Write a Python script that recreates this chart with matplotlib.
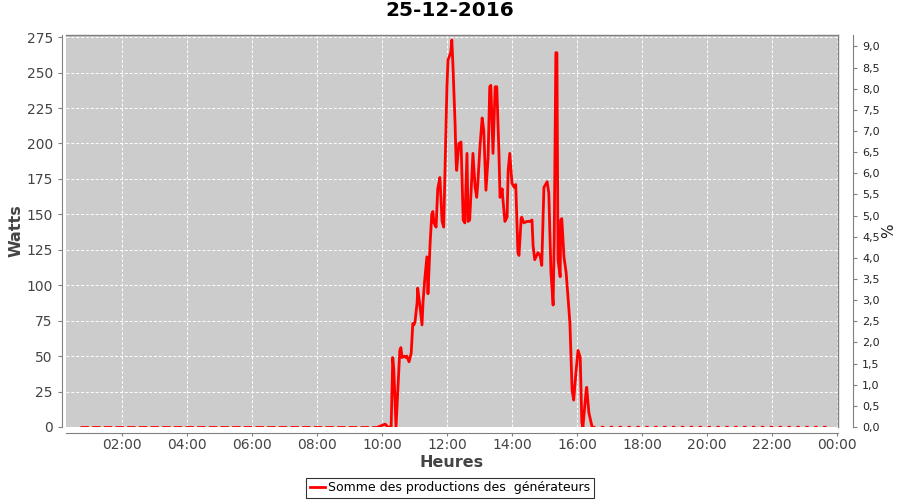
import matplotlib
matplotlib.use("Agg")
import matplotlib.pyplot as plt
import numpy as np

# --- data (time "HH:MM", watts) ---
day_times = ["09:53", "10:06", "10:11", "10:17", "10:20", "10:22", "10:26", "10:30", "10:33",
             "10:35", "10:37", "10:41", "10:44", "10:46", "10:50", "10:54", "10:57", "10:59",
             "11:01", "11:05", "11:06", "11:10", "11:14", "11:16", "11:19", "11:23", "11:25",
             "11:29", "11:32", "11:34", "11:36", "11:40", "11:43", "11:47", "11:51", "11:54",
             "12:00", "12:02", "12:07", "12:09", "12:11", "12:15", "12:17", "12:18", "12:22",
             "12:26", "12:30", "12:33", "12:37", "12:39", "12:42", "12:48", "12:52", "12:55",
             "12:57", "13:01", "13:05", "13:08", "13:12", "13:16", "13:19", "13:21", "13:25",
             "13:29", "13:32", "13:36", "13:38", "13:42", "13:43", "13:47", "13:51", "13:53",
             "13:56", "14:00", "14:04", "14:07", "14:11", "14:13", "14:17", "14:18", "14:22",
             "14:28", "14:33", "14:37", "14:39", "14:42", "14:48", "14:52", "14:55", "14:59",
             "15:05", "15:08", "15:12", "15:16", "15:18", "15:21", "15:23", "15:25", "15:29",
             "15:30", "15:32", "15:36", "15:40", "15:43", "15:47", "15:51", "15:54", "15:58",
             "16:02", "16:06", "16:09", "16:11", "16:17", "16:18", "16:22", "16:28"]
day_watts = [0, 2, 0, 0, 49, 40, 0, 31, 54,
             56, 49, 50, 49, 50, 46, 52, 73, 72,
             74, 88, 98, 86, 72, 89, 104, 120, 94,
             130, 150, 152, 144, 141, 168, 176, 145, 141,
             240, 259, 264, 273, 256, 214, 186, 181, 200,
             201, 146, 144, 193, 145, 146, 193, 169, 162,
             172, 198, 218, 209, 167, 190, 240, 241, 193,
             240, 240, 193, 162, 168, 162, 145, 148, 181,
             193, 172, 169, 171, 123, 121, 147, 148, 144,
             145, 145, 146, 128, 118, 123, 121, 114, 169,
             173, 165, 109, 86, 132, 264, 264, 118, 106,
             146, 147, 120, 109, 94, 73, 26, 19, 38,
             54, 49, 3, 0, 26, 28, 10, 0]

night_am_times = ["00:42", "09:53"]
night_am_watts = [0, 0]
night_pm_times = ["16:28", "23:47"]
night_pm_watts = [0, 0]

x_ticks = [2, 4, 6, 8, 10, 12, 14, 16, 18, 20, 22, 24]
x_tick_labels = ["02:00", "04:00", "06:00", "08:00", "10:00", "12:00",
                 "14:00", "16:00", "18:00", "20:00", "22:00", "00:00"]
left_ticks = [0, 25, 50, 75, 100, 125, 150, 175, 200, 225, 250, 275]
right_ticks = [0, 0.5, 1, 1.5, 2, 2.5, 3, 3.5, 4, 4.5, 5, 5.5, 6, 6.5, 7, 7.5, 8, 8.5, 9]


def to_hours(ts):
    return [int(t[:2]) + int(t[3:]) / 60 for t in ts]


axis_grey = "#808080"
label_grey = "#444444"

fig = plt.figure(figsize=(9, 5), dpi=100)
ax = fig.add_axes([0.0733, 0.146, 0.8578, 0.784])
ax.set_facecolor("#cccccc")

ax.plot(to_hours(night_am_times), night_am_watts, color="red", lw=2, ls=(0, (3, 1.2)))
ax.plot(to_hours(night_pm_times), night_pm_watts, color="red", lw=1.6, ls=(0, (1.5, 2.5)))
ax.plot(to_hours(day_times), day_watts, color="red", lw=2,
        label="Somme des productions des  générateurs")

ax.set_xlim(0.28, 24.03)
ax.set_ylim(0, 276.5)
ax.set_xticks(x_ticks)
ax.set_xticklabels(x_tick_labels)
ax.set_yticks(left_ticks)
ax.grid(True, color="white", ls=(0, (3, 2)), lw=0.7)

for s in ["top", "right"]:
    ax.spines[s].set_color(axis_grey)
    ax.spines[s].set_linewidth(1)
ax.spines["left"].set_position(("outward", 3))
ax.spines["bottom"].set_position(("outward", 4))
for s in ["left", "bottom"]:
    ax.spines[s].set_color(axis_grey)
ax.tick_params(colors=axis_grey, labelcolor=label_grey, labelsize=10, length=3)
ax.tick_params(axis="x", length=2, pad=2)

ax.set_ylabel("Watts", fontsize=11.5, fontweight="bold", color=label_grey, labelpad=2)
ax.set_xlabel("Heures", fontsize=11.5, fontweight="bold", color=label_grey, labelpad=2)

# right axis (percent, empty)
ax2 = ax.twinx()
ax2.set_ylim(0, 9.27)
ax2.set_yticks(right_ticks)
ax2.set_yticklabels([f"{v:.1f}".replace(".", ",") for v in right_ticks])
for s in ["top", "left", "bottom"]:
    ax2.spines[s].set_visible(False)
ax2.spines["right"].set_position(("outward", 11))
ax2.spines["right"].set_color(axis_grey)
ax2.tick_params(colors=axis_grey, labelcolor="#222222", labelsize=8, length=3)
ax2.set_ylabel("%", fontsize=11, color="#222222", labelpad=1)

fig.suptitle("25-12-2016", fontsize=14.5, fontweight="bold", y=0.997)

leg = fig.legend(loc="lower center", bbox_to_anchor=(0.5, 0.004), ncol=1, fontsize=9,
                 frameon=True, fancybox=False, handlelength=1.2, borderpad=0.3,
                 handletextpad=0.3, borderaxespad=0)
leg.get_frame().set_edgecolor("black")
leg.get_frame().set_linewidth(0.8)

fig.savefig("out.png", dpi=100)
